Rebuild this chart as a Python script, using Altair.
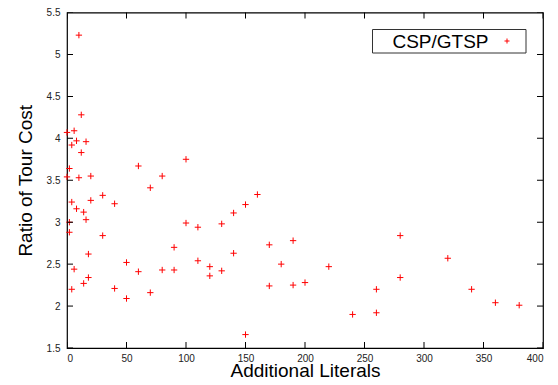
import altair as alt
import pandas as pd

# ---- data ----
additional_literals = [10, 12, 0, 6, 8, 16, 4, 12, 100, 2, 60, 0, 10, 20, 80, 70, 30, 4, 20, 40,
                       8, 14, 2, 16, 100, 110, 2, 30, 90, 18, 50, 110, 6, 60, 80, 90, 18, 14, 4, 40,
                       70, 50, 160, 150, 140, 130, 170, 190, 140, 120, 120, 130, 180, 220, 170, 190,
                       200, 240, 150, 280, 320, 280, 260, 340, 360, 380, 260]
tour_cost_ratio = [5.23, 4.28, 4.07, 4.09, 3.97, 3.96, 3.92, 3.83, 3.75, 3.64, 3.67, 3.54, 3.53, 3.55,
                   3.55, 3.41, 3.32, 3.24, 3.26, 3.22, 3.16, 3.12, 3.00, 3.03, 2.99, 2.94, 2.88, 2.84,
                   2.70, 2.62, 2.52, 2.54, 2.44, 2.41, 2.43, 2.43, 2.34, 2.27, 2.20, 2.21, 2.16, 2.09,
                   3.33, 3.21, 3.11, 2.98, 2.73, 2.78, 2.63, 2.47, 2.36, 2.42, 2.50, 2.47, 2.24, 2.25,
                   2.28, 1.90, 1.66, 2.84, 2.57, 2.34, 2.20, 2.20, 2.04, 2.01, 1.92]
series_names = ["CSP/GTSP"]
x_ticks = [0, 50, 100, 150, 200, 250, 300, 350, 400]
y_ticks = [1.5, 2, 2.5, 3, 3.5, 4, 4.5, 5, 5.5]

FONT = "Liberation Sans"
PLUS = "M-1,0L1,0M0,-1L0,1"
W, H = 476, 335.5

df = pd.DataFrame({"lit": additional_literals, "ratio": tour_cost_ratio})
xs = alt.Scale(domain=[x_ticks[0], x_ticks[-1]], nice=False, zero=False)
ys = alt.Scale(domain=[y_ticks[0], y_ticks[-1]], nice=False, zero=False)

x_axis = alt.Axis(
    values=x_ticks, title="Additional Literals", grid=False, domain=False,
    ticks=False, tickSize=0, labelPadding=5, labelFontSize=10, labelFont=FONT,
    labelColor="#222", titleFont=FONT, titleFontSize=19, titleFontWeight="normal",
    titleColor="#000", titleBaseline="alphabetic", titleY=28.5)
y_axis = alt.Axis(
    values=y_ticks, format="~g", title="Ratio of Tour Cost", grid=False, domain=False,
    ticks=False, tickSize=0, labelPadding=7, labelFontSize=10, labelFont=FONT,
    labelColor="#222", titleFont=FONT, titleFontSize=19, titleFontWeight="normal",
    titleColor="#000", titleAngle=-90, titleBaseline="alphabetic", titleAlign="center",
    titleX=-36, titleY=H / 2)

points = alt.Chart(df).mark_point(
    shape=PLUS, filled=False, size=40, strokeWidth=1, color="#ff0000", opacity=1
).encode(
    x=alt.X("lit:Q", scale=xs, axis=x_axis),
    y=alt.Y("ratio:Q", scale=ys, axis=y_axis),
)

xt = pd.DataFrame({"v": x_ticks, "lo": y_ticks[0], "hi": y_ticks[-1]})
yt = pd.DataFrame({"v": y_ticks, "lo": x_ticks[0], "hi": x_ticks[-1]})

def tick_layer(data, orient, xf, yf):
    return alt.Chart(data).mark_tick(
        orient=orient, size=12, thickness=1, clip=True, color="#000", opacity=1
    ).encode(
        x=alt.X(xf, scale=xs, axis=x_axis),
        y=alt.Y(yf, scale=ys, axis=y_axis),
    )

ticks = (tick_layer(xt, "vertical", "v:Q", "lo:Q")
         + tick_layer(xt, "vertical", "v:Q", "hi:Q")
         + tick_layer(yt, "horizontal", "lo:Q", "v:Q")
         + tick_layer(yt, "horizontal", "hi:Q", "v:Q"))

leg = pd.DataFrame({"label": series_names})
legend_box = alt.Chart(leg).mark_rect(fill="white", stroke="#333", strokeWidth=1).encode(
    x=alt.value(305.5), x2=alt.value(459), y=alt.value(17), y2=alt.value(40.5))
legend_text = alt.Chart(leg).mark_text(
    font=FONT, fontSize=19, align="center", baseline="alphabetic", color="#000"
).encode(x=alt.value(373.5), y=alt.value(35.5), text="label:N")
legend_sym = alt.Chart(leg).mark_point(
    shape=PLUS, filled=False, size=25, strokeWidth=1, color="#ff0000", opacity=1
).encode(x=alt.value(440), y=alt.value(28.5))

chart = alt.layer(points, ticks, legend_box, legend_text, legend_sym).properties(
    width=W, height=H,
    background="white",
    autosize=alt.AutoSizeParams(type="none"),
    padding={"left": 59, "top": 4.5, "right": 7, "bottom": 29},
).configure_view(stroke="#000", strokeWidth=1.2)

chart.save("out.html", embed_options={"renderer": "svg", "actions": False})
